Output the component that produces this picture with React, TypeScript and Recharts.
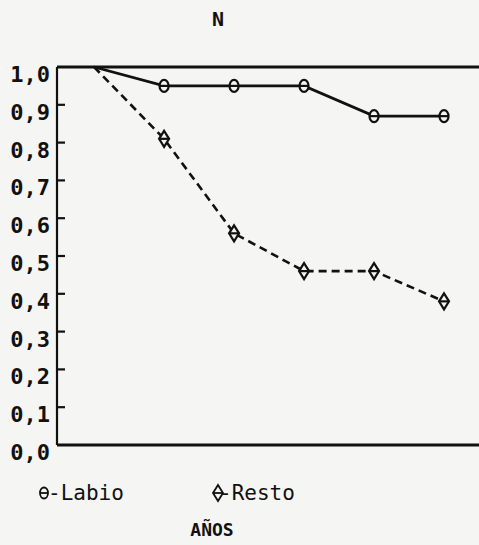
import React from "react";
import { LineChart, Line, XAxis, YAxis, ReferenceLine } from "recharts";

const years = [0, 1, 2, 3, 4, 5];
const labio = [1.0, 0.95, 0.95, 0.95, 0.87, 0.87];
const resto = [1.0, 0.81, 0.56, 0.46, 0.46, 0.38];
const yTicks = [0, 0.1, 0.2, 0.3, 0.4, 0.5, 0.6, 0.7, 0.8, 0.9, 1.0];

const data = years.map((y, i) => ({ year: y, labio: labio[i], resto: resto[i] }));

const MONO = "'DejaVu Sans Mono', monospace";

const LabioDot = (props: any) => {
  const { cx, cy, index } = props;
  if (index === 0 || cx == null) return <g key={`l${index}`} />;
  return (
    <g key={`l${index}`}>
      <ellipse cx={cx} cy={cy} rx={4.5} ry={6} fill="#f5f5f3" stroke="#111" strokeWidth={2.2} />
      <line x1={cx - 4.5} x2={cx + 4.5} y1={cy} y2={cy} stroke="#111" strokeWidth={2.2} />
    </g>
  );
};

const RestoDot = (props: any) => {
  const { cx, cy, index } = props;
  if (index === 0 || cx == null) return <g key={`r${index}`} />;
  return (
    <g key={`r${index}`}>
      <polygon
        points={`${cx},${cy - 8} ${cx + 5},${cy} ${cx},${cy + 8} ${cx - 5},${cy}`}
        fill="#f5f5f3"
        stroke="#111"
        strokeWidth={2.2}
      />
      <line x1={cx - 5} x2={cx + 5} y1={cy} y2={cy} stroke="#111" strokeWidth={2.2} />
    </g>
  );
};

const YTick = (props: any) => {
  const { y, payload } = props;
  const v = payload.value as number;
  const label = v.toFixed(1).replace(".", ",");
  return (
    <g>
      {v > 0.001 && v < 0.999 ? (
        <line x1={57} x2={65} y1={y} y2={y} stroke="#111" strokeWidth={2.2} />
      ) : null}
      <text
        x={50}
        y={y + 15}
        textAnchor="end"
        fontFamily={MONO}
        fontWeight="bold"
        fontSize={22}
        fill="#111"
      >
        {label}
      </text>
    </g>
  );
};

export default function App() {
  return (
    <div
      style={{
        position: "absolute",
        left: 0,
        top: 0,
        width: 479,
        height: 545,
        background: "#f5f5f3",
        overflow: "hidden",
      }}
    >
      <div style={{ position: "absolute", left: 0, top: 0 }}>
        <LineChart
          width={479}
          height={545}
          data={data}
          margin={{ top: 67, right: 0, bottom: 100, left: 0 }}
        >
          <XAxis
            dataKey="year"
            type="number"
            domain={[-0.53, 5.5]}
            hide
            allowDataOverflow
          />
          <YAxis
            type="number"
            domain={[0, 1]}
            ticks={yTicks}
            width={57}
            axisLine={{ stroke: "#111", strokeWidth: 2.2 }}
            tickLine={false}
            tick={<YTick />}
            interval={0}
          />
          <ReferenceLine y={1} stroke="#111" strokeWidth={2.8} />
          <ReferenceLine y={0} stroke="#111" strokeWidth={2.8} />
          <Line
            dataKey="labio"
            stroke="#111"
            strokeWidth={2.8}
            dot={<LabioDot />}
            activeDot={false}
            isAnimationActive={false}
          />
          <Line
            dataKey="resto"
            stroke="#111"
            strokeWidth={2.6}
            strokeDasharray="8 5"
            dot={<RestoDot />}
            activeDot={false}
            isAnimationActive={false}
          />
        </LineChart>
      </div>
      <svg
        width={479}
        height={545}
        style={{ position: "absolute", left: 0, top: 0, pointerEvents: "none" }}
      >
        <text x={218} y={26} textAnchor="middle" fontFamily={MONO} fontWeight="bold" fontSize={20} fill="#111">
          N
        </text>
        <ellipse cx={44} cy={493} rx={4} ry={5.5} fill="none" stroke="#111" strokeWidth={1.8} />
        <line x1={40} x2={48} y1={493} y2={493} stroke="#111" strokeWidth={1.8} />
        <text x={48} y={500} fontFamily={MONO} fontSize={21} fill="#111">
          -Labio
        </text>
        <polygon points="218,485 223,493 218,501 213,493" fill="none" stroke="#111" strokeWidth={1.8} />
        <line x1={213} x2={223} y1={493} y2={493} stroke="#111" strokeWidth={1.8} />
        <text x={219} y={500} fontFamily={MONO} fontSize={21} fill="#111">
          -Resto
        </text>
        <text x={212} y={536} textAnchor="middle" fontFamily={MONO} fontWeight="bold" fontSize={18} fill="#111">
          AÑOS
        </text>
      </svg>
    </div>
  );
}
